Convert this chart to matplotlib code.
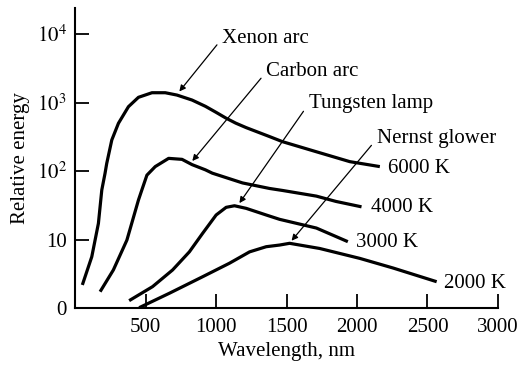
import numpy as np
import matplotlib
matplotlib.use("Agg")
import matplotlib.pyplot as plt

plt.rcParams["font.family"] = ["Liberation Serif", "DejaVu Serif"]
plt.rcParams["mathtext.fontset"] = "stix"

# wavelength (nm) and relative energy
xenon_x = [52, 119, 166, 190, 213, 225, 261, 308, 379, 450, 546, 640, 723, 830, 925,
           1000, 1072, 1140, 1214, 1380, 1472, 1712, 1949, 2162]
xenon_y = [2.17, 5.6, 17.2, 52.8, 92.5, 129, 284, 497, 869, 1191, 1390, 1390, 1285, 1087, 880,
           720, 590, 500, 430, 318, 268, 191, 137, 116]

carbon_x = [178, 272, 368, 450, 474, 510, 569, 664, 759, 830, 925, 974, 1188, 1380, 1472,
            1712, 1850, 2032]
carbon_y = [1.73, 3.59, 9.8, 37.7, 52.8, 87, 116, 153, 148, 124, 104, 93, 67, 55.6, 52,
            43, 36, 30]

tungsten_x = [384, 550, 692, 811, 905, 1001, 1072, 1131, 1214, 1356, 1451, 1712, 1935]
tungsten_y = [1.28, 2.05, 3.59, 6.6, 12.3, 22.8, 29.5, 31.1, 28.5, 22.8, 19.7, 14.7, 9.3]

nernst_x = [455, 669, 905, 1095, 1238, 1356, 1451, 1522, 1735, 2020, 2255, 2565]
nernst_y = [1.01, 1.64, 2.86, 4.5, 6.6, 7.85, 8.3, 8.8, 7.4, 5.3, 3.84, 2.42]

series = [
    (xenon_x, xenon_y, "6000 K", (2219, 110)),
    (carbon_x, carbon_y, "4000 K", (2098, 29.5)),
    (tungsten_x, tungsten_y, "3000 K", (1991, 9.1)),
    (nernst_x, nernst_y, "2000 K", (2617, 2.3)),
]

sources = [
    ("Xenon arc", (740, 1450), (1045, 8700)),
    ("Carbon arc", (832, 140), (1358, 2820)),
    ("Tungsten lamp", (1166, 34), (1657, 955)),
    ("Nernst glower", (1536, 9.6), (2141, 295)),
]

xticks = [500, 1000, 1500, 2000, 2500, 3000]
yticks = [1, 10, 100, 1000, 10000]
ytick_labels = ["0", "10", r"$10^2$", r"$10^3$", r"$10^4$"]

fig = plt.figure(figsize=(5.21, 3.68), dpi=100)
ax = fig.add_axes([75 / 521, 60 / 368, 423 / 521, 300 / 368])

for xs, ys, temp, pos in series:
    ax.plot(xs, ys, color="black", lw=2.3, solid_joinstyle="round", solid_capstyle="butt")
    ax.text(pos[0], pos[1], temp, fontsize=15, ha="left", va="center")

for name, tip, txt in sources:
    ax.annotate(
        name, xy=tip, xytext=txt, fontsize=15, ha="left", va="center",
        arrowprops=dict(arrowstyle="-|>", color="black", lw=0.9,
                        mutation_scale=9, shrinkA=3, shrinkB=0, relpos=(0, 0.5)),
    )

ax.set_yscale("log")
ax.set_xlim(0, 3000)
ax.set_ylim(1, 10 ** 4.38)
ax.set_xticks(xticks)
ax.set_xticklabels([str(t) for t in xticks])
ax.set_yticks(yticks)
ax.set_yticklabels(ytick_labels)
ax.minorticks_off()

for s in ["top", "right"]:
    ax.spines[s].set_visible(False)
for s in ["left", "bottom"]:
    ax.spines[s].set_linewidth(1.5)

ax.tick_params(axis="both", direction="in", length=10, width=1.3, labelsize=15)
ax.tick_params(axis="x", pad=7)
ax.tick_params(axis="y", pad=6)

ax.set_xlabel("Wavelength, nm", fontsize=15, labelpad=4)
ax.set_ylabel("Relative energy", fontsize=15, labelpad=5)

fig.savefig("out.png", dpi=100)
